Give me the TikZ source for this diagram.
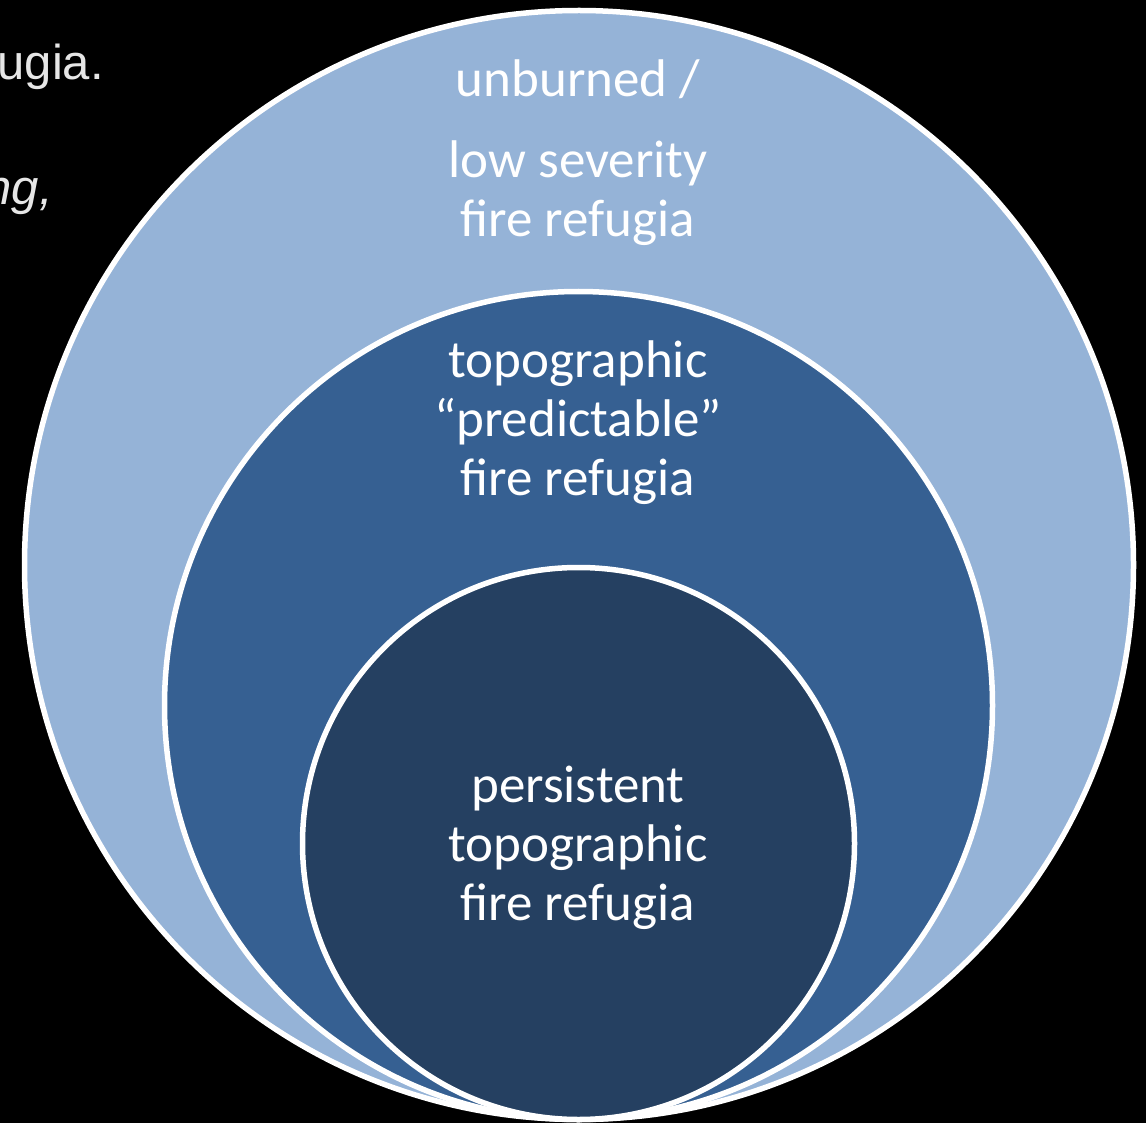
\documentclass[tikz,border=0pt]{standalone}
\usepackage{fontspec}
\setmainfont{Carlito}
\newfontfamily\arialf{Liberation Sans}
\definecolor{outerc}{HTML}{95B3D7}
\definecolor{midc}{HTML}{366092}
\definecolor{innerc}{HTML}{254061}
\definecolor{sidetext}{HTML}{E6E6E6}
\begin{document}
\begin{tikzpicture}[x=1pt,y=-1pt,
  ring/.style={circle, draw=white, line width=5.5pt, inner sep=0pt},
  lbl/.style={text=white, font=\fontsize{53}{59}\selectfont, align=center, inner sep=0pt, anchor=base},
  side/.style={text=sidetext, font=\arialf\fontsize{49}{58}\selectfont, inner sep=0pt, anchor=base east}]
\fill[black] (0,0) rectangle (1146,1123);
\useasboundingbox (0,0) rectangle (1146,1123);
\node[ring, fill=outerc, minimum size=1109pt] (outer) at (579,565) {};
\node[ring, fill=midc, minimum size=828pt] (middle) at (578.5,705.5) {};
\node[ring, fill=innerc, minimum size=552pt] (inner) at (578.5,843.5) {};
\node[lbl] (t1) at (578,237) {unburned /\\[22pt]low severity\\fire refugia};
\node[lbl] (t2) at (578,495) {topographic\\\char"201C predictable\char"201D\\fire refugia};
\node[lbl] (t3) at (578,920) {persistent\\topographic\\fire refugia};
\node[side] (s1) at (104,80) {ugia.};
\node[side] (s2) at (53,205) {\itshape ng,};
\end{tikzpicture}
\end{document}
